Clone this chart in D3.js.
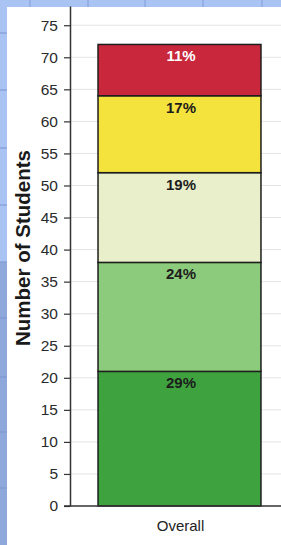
<!DOCTYPE html>
<html>
<head>
<meta charset="utf-8">
<script src="https://cdn.jsdelivr.net/npm/d3@7"></script>
<style>
  html, body { margin: 0; padding: 0; background: #a9c3f2; }
  svg { display: block; }
</style>
</head>
<body>
<svg id="chart" width="281" height="545"></svg>
<script>
// chart data (bottom segment first)
const categories = ["Overall"];
const segmentKeys = ["s1", "s2", "s3", "s4", "s5"];
const segmentCounts = [21, 17, 14, 12, 8];
const segmentLabels = ["29%", "24%", "19%", "17%", "11%"];
const yTicks = [0, 5, 10, 15, 20, 25, 30, 35, 40, 45, 50, 55, 60, 65, 70, 75];

const segmentColors = ["#3ea33f", "#8bcb7b", "#e9efcb", "#f4e33c", "#c9273c"];
const labelColors = ["#1c1c1c", "#1c1c1c", "#1c1c1c", "#1c1c1c", "#ffffff"];

const W = 281, H = 545;
const svg = d3.select("#chart");

// spreadsheet backdrop around the chart
const bg = svg.append("g");
bg.append("rect").attr("x", 0).attr("y", 262).attr("width", 7).attr("height", H - 262).attr("fill", "#8fa8dc");
[30, 88, 145, 203, 262].forEach(x => bg.append("line")
  .attr("x1", x).attr("x2", x).attr("y1", 0).attr("y2", 7).attr("stroke", "#7f9dd6"));
[33, 90, 148, 205, 262, 318, 377, 432, 488].forEach(y => bg.append("line")
  .attr("x1", 0).attr("x2", 7).attr("y1", y).attr("y2", y).attr("stroke", "#7895cf"));
svg.append("rect").attr("x", 7).attr("y", 7).attr("width", W - 7).attr("height", H - 7).attr("fill", "#ffffff");

const axisX = 70;
const x = d3.scaleBand().domain(categories).range([axisX, 289]).paddingInner(0).paddingOuter(0.172);
const y = d3.scaleLinear().domain([0, 78]).range([506, 6]);

// gridlines
svg.append("g").selectAll("line").data(yTicks.filter(d => d > 0)).join("line")
  .attr("x1", axisX).attr("x2", W)
  .attr("y1", d => y(d)).attr("y2", d => y(d))
  .attr("stroke", "#e4e4e4").attr("stroke-width", 1);

// stacked bar
const row = {};
segmentKeys.forEach((k, i) => row[k] = segmentCounts[i]);
row.category = categories[0];
const series = d3.stack().keys(segmentKeys)([row]);

const bars = svg.append("g");
series.forEach((s, i) => {
  s.forEach(d => {
    bars.append("rect")
      .attr("x", x(d.data.category))
      .attr("y", y(d[1]))
      .attr("width", x.bandwidth())
      .attr("height", y(d[0]) - y(d[1]))
      .attr("fill", segmentColors[i])
      .attr("stroke", "#1e1e1e")
      .attr("stroke-width", 1.5);
    bars.append("text")
      .attr("x", x(d.data.category) + x.bandwidth() / 2 + 1.5)
      .attr("y", y(d[1]) + 17)
      .attr("text-anchor", "middle")
      .attr("font-family", "Liberation Sans, Arial, sans-serif")
      .attr("font-weight", "bold")
      .attr("font-size", 15)
      .attr("fill", labelColors[i])
      .text(segmentLabels[i]);
  });
});

// y axis
const yAxis = svg.append("g")
  .attr("transform", `translate(${axisX},0)`)
  .call(d3.axisLeft(y).tickValues(yTicks).tickSize(6).tickPadding(6).tickSizeOuter(0));
yAxis.select(".domain").attr("stroke", "#333").attr("stroke-width", 1.5);
yAxis.selectAll(".tick line").attr("stroke", "#333").attr("stroke-width", 1.2);
yAxis.selectAll(".tick text")
  .attr("font-family", "Liberation Sans, Arial, sans-serif")
  .attr("font-size", 15.5).attr("fill", "#2a2a2a");

// x axis
const xAxis = svg.append("g")
  .attr("transform", `translate(0,${y(0)})`)
  .call(d3.axisBottom(x).tickSize(0).tickPadding(14));
xAxis.select(".domain").attr("d", `M${axisX - 6},0H${W}`).attr("stroke", "#333").attr("stroke-width", 1.5);
xAxis.selectAll(".tick text")
  .attr("font-family", "Liberation Sans, Arial, sans-serif")
  .attr("font-size", 15).attr("fill", "#222")
  .attr("dx", 1);

// axis title
svg.append("text")
  .attr("transform", "translate(30,248) rotate(-90)")
  .attr("text-anchor", "middle")
  .attr("font-family", "Liberation Sans, Arial, sans-serif")
  .attr("font-weight", "bold")
  .attr("font-size", 20.5)
  .attr("fill", "#1a1a1a")
  .text("Number of Students");
</script>
</body>
</html>
